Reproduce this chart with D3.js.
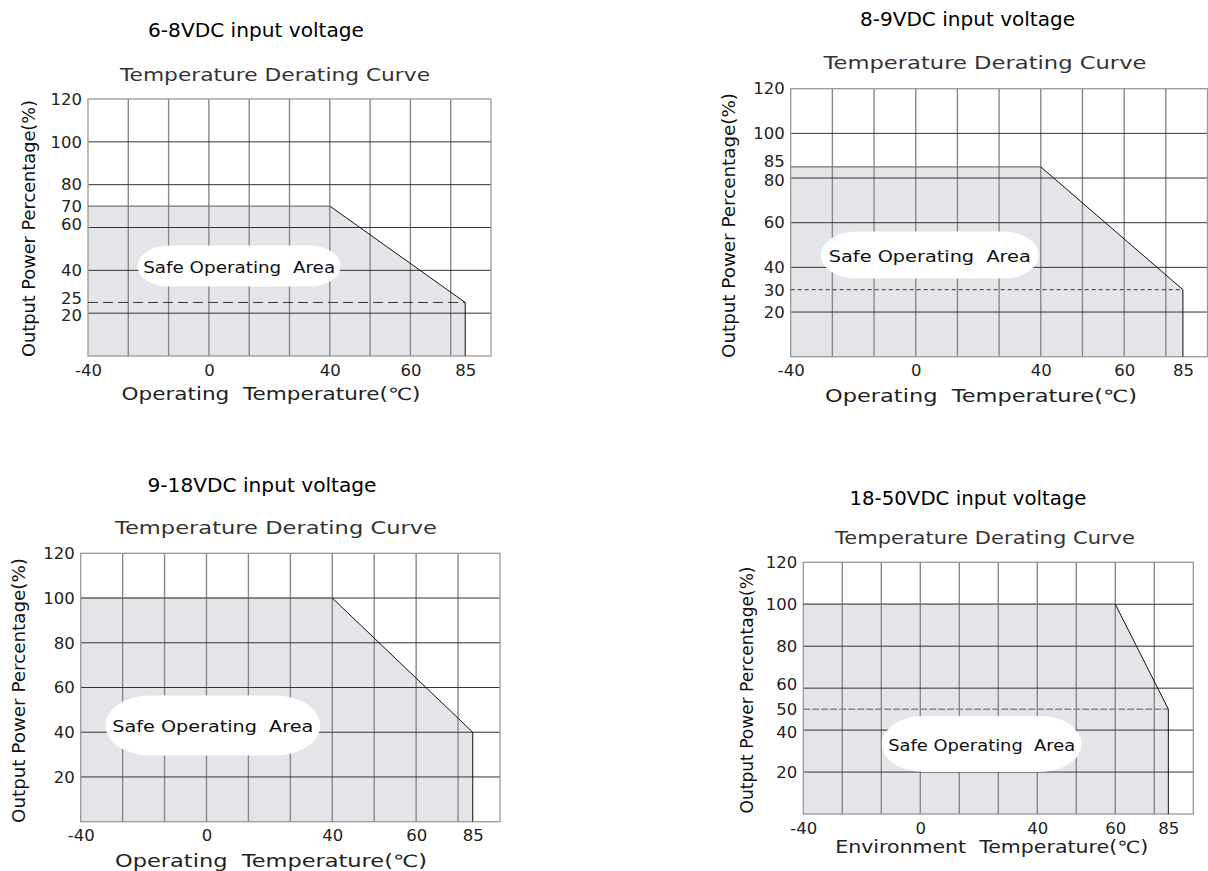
<!DOCTYPE html>
<html>
<head>
<meta charset="utf-8">
<script src="https://cdn.jsdelivr.net/npm/d3@7"></script>
<style>
  body { margin: 0; background: #fff; }
  svg text { white-space: pre; font-family: "DejaVu Sans", sans-serif; }
</style>
</head>
<body>
<div id="chart"></div>
<script>
// chart data
var panelTitles = ["6-8VDC input voltage", "8-9VDC input voltage", "9-18VDC input voltage", "18-50VDC input voltage"];
var subTitle = "Temperature Derating Curve";
var yAxisTitle = "Output Power Percentage(%)";
var xAxisTitles = ["Operating  Temperature(\u2103)", "Operating  Temperature(\u2103)", "Operating  Temperature(\u2103)", "Environment  Temperature(\u2103)"];
var safeLabel = "Safe Operating  Area";

var xTickValues = [-40, 0, 40, 60, 85];
var yTickValues = [
  [20, 25, 40, 60, 70, 80, 100, 120],
  [20, 30, 40, 60, 80, 85, 100, 120],
  [20, 40, 60, 80, 100, 120],
  [20, 40, 50, 60, 80, 100, 120]
];
var yGridValues = [20, 40, 60, 80, 100];

var derateTemps = [[-40, 40, 85], [-40, 40, 85], [-40, 40, 85], [-40, 60, 85]];
var deratePower = [[70, 70, 25], [85, 85, 30], [100, 100, 40], [100, 100, 50]];
var dashedLevel = [25, 30, null, 50];

// where the "Safe Operating Area" badge sits, in temperature / power units
var safeTemp = [10, 4.5, 2, 21];
var safePower = [42, 45.5, 43, 33.4];

// layout of each panel (pixels)
var layout = [
  { left: 88, top: 99, right: 491, bottom: 356, endCol: 9.36,
    title: [256, 37, 216], sub: [275, 80.5, 310], xlab: [271, 399.5, 299], ylab: [35, 228.5, 257],
    safe: [203, 41, 192], dash: "10,5", dashColor: "#333", dashWidth: 1,
    nudge: { 25: -4, 20: 2, 60: -3 } },
  { left: 790.7, top: 88.7, right: 1207.5, bottom: 356.7, endCol: 9.41,
    title: [967.5, 26, 215], sub: [985, 69, 323], xlab: [981, 401.5, 312], ylab: [735, 225.5, 265],
    safe: [218, 47, 202], dash: "4,3", dashColor: "#333", dashWidth: 1,
    nudge: { 85: -6, 80: 2, 30: 1 } },
  { left: 80.7, top: 553.3, right: 500, bottom: 821.7, endCol: 9.35,
    title: [262, 491.5, 229], sub: [276, 534, 322], xlab: [271, 867, 312], ylab: [25, 690.5, 265],
    safe: [215, 60, 201], dash: null, nudge: {} },
  { left: 803.3, top: 562.3, right: 1193.3, bottom: 814, endCol: 9.36,
    title: [968, 505, 237], sub: [985, 544, 300], xlab: [991.7, 853, 313], ylab: [753, 690, 247],
    safe: [200, 56, 187], dash: "7,2", dashColor: "#888", dashWidth: 1.5,
    nudge: { 60: -4, 40: 2 } }
];

var svg = d3.select("#chart").append("svg")
    .attr("width", 1208)
    .attr("height", 871);

svg.append("rect").attr("width", 1208).attr("height", 871).attr("fill", "#fff");

layout.forEach(function(L, i) {
  var g = svg.append("g");

  // 10 equal grid columns, temperatures placed on them piecewise
  var col = d3.scaleLinear().domain([0, 10]).range([L.left, L.right]);
  var x = d3.scaleLinear()
      .domain(xTickValues)
      .range([0, 3, 6, 8, L.endCol].map(col));
  var y = d3.scaleLinear().domain([0, 120]).range([L.bottom, L.top]);

  var pts = derateTemps[i].map(function(t, k) { return { t: t, p: deratePower[i][k] }; });

  // shaded safe area
  var area = d3.area()
      .x(function(d) { return x(d.t); })
      .y0(y(0))
      .y1(function(d) { return y(d.p); });
  g.append("path").datum(pts)
      .attr("d", area)
      .attr("fill", "#e4e5e9");

  // vertical grid
  g.selectAll(".vgrid").data(d3.range(1, 10)).enter().append("line")
      .attr("x1", function(d) { return col(d); })
      .attr("x2", function(d) { return col(d); })
      .attr("y1", L.top).attr("y2", L.bottom)
      .attr("stroke", "#888").attr("stroke-width", 1.4);

  // horizontal grid
  g.selectAll(".hgrid").data(yGridValues).enter().append("line")
      .attr("x1", L.left).attr("x2", L.right)
      .attr("y1", function(d) { return y(d); })
      .attr("y2", function(d) { return y(d); })
      .attr("stroke", "#333").attr("stroke-width", 1);

  // frame
  g.append("rect")
      .attr("x", L.left).attr("y", L.top)
      .attr("width", L.right - L.left).attr("height", L.bottom - L.top)
      .attr("fill", "none").attr("stroke", "#999").attr("stroke-width", 1.3);

  // dashed minimum-load level
  if (dashedLevel[i] != null) {
    g.append("line")
        .attr("x1", x(-40)).attr("x2", x(85))
        .attr("y1", y(dashedLevel[i])).attr("y2", y(dashedLevel[i]))
        .attr("stroke", L.dashColor).attr("stroke-width", L.dashWidth)
        .attr("stroke-dasharray", L.dash);
  }

  // curve outline: flat part grey, slope and drop black
  var line = d3.line().x(function(d) { return x(d.t); }).y(function(d) { return y(d.p); });
  g.append("path").datum(pts.slice(0, 2))
      .attr("d", line).attr("fill", "none")
      .attr("stroke", "#777").attr("stroke-width", 1.3);
  var last = pts[pts.length - 1];
  g.append("path").datum(pts.slice(1).concat([{ t: last.t, p: 0 }]))
      .attr("d", line).attr("fill", "none")
      .attr("stroke", "#111").attr("stroke-width", 1);

  // badge
  var cx = x(safeTemp[i]), cy = y(safePower[i]);
  var w = L.safe[0], h = L.safe[1];
  g.append("rect")
      .attr("x", cx - w / 2).attr("y", cy - h / 2)
      .attr("width", w).attr("height", h)
      .attr("rx", Math.min(h * 0.75, w / 2)).attr("ry", h / 2)
      .attr("fill", "#fff");
  g.append("text")
      .attr("x", cx).attr("y", cy + 1)
      .attr("dy", "0.36em")
      .attr("text-anchor", "middle")
      .attr("font-size", 16)
      .attr("textLength", L.safe[2])
      .attr("lengthAdjust", "spacingAndGlyphs")
      .attr("fill", "#111")
      .text(safeLabel);

  // axes labels
  var yAxis = g.append("g")
      .attr("transform", "translate(" + (L.left - 2) + ",0)")
      .call(d3.axisLeft(y).tickValues(yTickValues[i]).tickFormat(String).tickSize(0).tickPadding(4));
  yAxis.select(".domain").remove();
  yAxis.selectAll(".tick text")
      .attr("font-family", "DejaVu Sans")
      .attr("font-size", 16.5)
      .attr("fill", "#222")
      .attr("y", function(d) { return L.nudge[d] || 0; });

  var xAxis = g.append("g")
      .attr("transform", "translate(0," + L.bottom + ")")
      .call(d3.axisBottom(x).tickValues(xTickValues).tickFormat(String).tickSize(0).tickPadding(8));
  xAxis.select(".domain").remove();
  xAxis.selectAll("text")
      .attr("font-family", "DejaVu Sans")
      .attr("font-size", 16.5)
      .attr("fill", "#222");

  // titles
  g.append("text")
      .attr("x", L.title[0]).attr("y", L.title[1])
      .attr("text-anchor", "middle")
      .attr("font-family", "Roboto")
      .attr("font-weight", 500)
      .attr("font-size", 20)
      .attr("textLength", L.title[2]).attr("lengthAdjust", "spacingAndGlyphs")
      .attr("fill", "#000")
      .text(panelTitles[i]);

  g.append("text")
      .attr("x", L.sub[0]).attr("y", L.sub[1])
      .attr("text-anchor", "middle")
      .attr("font-size", 17)
      .attr("textLength", L.sub[2]).attr("lengthAdjust", "spacingAndGlyphs")
      .attr("fill", "#333")
      .text(subTitle);

  g.append("text")
      .attr("x", L.xlab[0]).attr("y", L.xlab[1])
      .attr("text-anchor", "middle")
      .attr("font-size", 17)
      .attr("textLength", L.xlab[2]).attr("lengthAdjust", "spacingAndGlyphs")
      .attr("fill", "#222")
      .text(xAxisTitles[i]);

  g.append("text")
      .attr("transform", "translate(" + L.ylab[0] + "," + L.ylab[1] + ") rotate(-90)")
      .attr("text-anchor", "middle")
      .attr("font-size", 17)
      .attr("textLength", L.ylab[2]).attr("lengthAdjust", "spacingAndGlyphs")
      .attr("fill", "#111")
      .text(yAxisTitle);
});
</script>
</body>
</html>
